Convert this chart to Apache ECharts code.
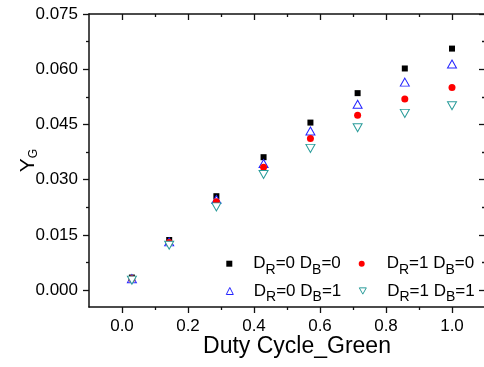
<!DOCTYPE html>
<html>
<head>
<meta charset="utf-8">
<script src="https://cdn.jsdelivr.net/npm/echarts@6/dist/echarts.min.js"></script>
<style>html,body{margin:0;padding:0;background:#fff}#c{width:484px;height:367px}</style>
</head>
<body>
<div id="c"></div>
<script>
// ---- data ----
const dutyCycle = [0.03, 0.143, 0.286, 0.429, 0.571, 0.714, 0.857, 1.0];
const yDR0DB0 = [0.0034, 0.0136, 0.0255, 0.0361, 0.0455, 0.0535, 0.0602, 0.0656];
const yDR0DB1 = [0.0031, 0.0131, 0.0246, 0.0344, 0.0432, 0.0505, 0.0565, 0.0614];
const yDR1DB0 = [0.0031, 0.0129, 0.0240, 0.0334, 0.0412, 0.0475, 0.0519, 0.0550];
const yDR1DB1 = [0.0027, 0.0122, 0.0226, 0.0314, 0.0385, 0.0441, 0.0480, 0.0501];
const seriesNames = ['DR=0 DB=0', 'DR=0 DB=1', 'DR=1 DB=0', 'DR=1 DB=1'];
const legendRich = {
  'DR=0 DB=0': '{n|D}{s|R}{n|=0 D}{s|B}{n|=0}',
  'DR=0 DB=1': '{n|D}{s|R}{n|=0 D}{s|B}{n|=1}',
  'DR=1 DB=0': '{n|D}{s|R}{n|=1 D}{s|B}{n|=0}',
  'DR=1 DB=1': '{n|D}{s|R}{n|=1 D}{s|B}{n|=1}'
};
const xMajorTicks = [0.0, 0.2, 0.4, 0.6, 0.8, 1.0];
const xMinorTicks = [0.1, 0.3, 0.5, 0.7, 0.9];
const yMajorTicks = [0.000, 0.015, 0.030, 0.045, 0.060, 0.075];
const yMinorTicks = [0.0075, 0.0225, 0.0375, 0.0525, 0.0675];
const xTitle = 'Duty Cycle_Green';

const FONT = 'Liberation Sans, Arial, sans-serif';
const AXC = '#111';
const X_MIN = -0.1, X_MAX = 1.1, Y_MIN = -0.0046, Y_MAX = 0.075;
const DOWN_TRI = 'path://M0,0L10,0L5,9Z';

function xAx(pos, ticks, len, inside, showLine, showLabel, extra) {
  return Object.assign({
    type: 'value', position: pos, min: X_MIN, max: X_MAX,
    axisLine: {show: showLine, onZero: false, lineStyle: {color: AXC, width: 1.5}},
    axisTick: {show: true, inside: inside, length: len, customValues: ticks, lineStyle: {color: AXC, width: 1.3}},
    axisLabel: {show: showLabel, customValues: xMajorTicks, margin: 11, color: '#000', fontSize: 17, fontFamily: FONT,
      formatter: v => v.toFixed(1)},
    splitLine: {show: false}
  }, extra || {});
}
function yAx(pos, ticks, len, inside, showLine, showLabel, extra) {
  return Object.assign({
    type: 'value', position: pos, min: Y_MIN, max: Y_MAX,
    axisLine: {show: showLine, onZero: false, lineStyle: {color: AXC, width: 1.5}},
    axisTick: {show: true, inside: inside, length: len, customValues: ticks, lineStyle: {color: AXC, width: 1.3}},
    axisLabel: {show: showLabel, customValues: yMajorTicks, margin: 11, color: '#000', fontSize: 17, fontFamily: FONT,
      formatter: v => v.toFixed(3)},
    splitLine: {show: false}
  }, extra || {});
}

const symbols = [
  {symbol: 'rect', size: 6, style: {color: '#000', opacity: 1}},
  {symbol: 'triangle', size: [9, 8], style: {color: '#fff', borderColor: '#2424ff', borderWidth: 1, opacity: 1}},
  {symbol: 'circle', size: 7, style: {color: '#ff0000', opacity: 1}},
  {symbol: DOWN_TRI, size: [9, 8], style: {color: '#fff', borderColor: '#2a9c9a', borderWidth: 1, opacity: 1}}
];
const seriesData = [yDR0DB0, yDR0DB1, yDR1DB0, yDR1DB1];

const series = seriesNames.map((name, i) => ({
  type: 'scatter', name: name, xAxisIndex: 0, yAxisIndex: 0,
  symbol: symbols[i].symbol, symbolSize: symbols[i].size,
  itemStyle: symbols[i].style,
  data: dutyCycle.map((x, k) => [x, seriesData[i][k]]),
  emphasis: {disabled: true}
}));

// icon centre x, icon size, text start x, row centre y
const legendPos = [
  {cx: 229.3, s: 6, tx: 253.3, cy: 262.7},
  {cx: 229.3, s: 7, tx: 253.3, cy: 290},
  {cx: 361.7, s: 6, tx: 386.7, cy: 262.7},
  {cx: 362.3, s: 7, tx: 386.7, cy: 290}
];
const SUBPAD = 12;
const LEG_SHIFT = 5.5;
const legends = seriesNames.map((name, i) => {
  const p = legendPos[i];
  const left = p.cx - p.s / 2;
  const padL = p.tx - (left + p.s + 5);
  const boxH = 14 + SUBPAD;
  return {
    data: [name], left: left, top: p.cy - boxH / 2 + LEG_SHIFT, padding: 0,
    itemWidth: p.s, itemHeight: p.s, selectedMode: false,
    itemStyle: {borderWidth: 1},
    formatter: n => legendRich[n],
    textStyle: {
      color: '#000', fontFamily: FONT, padding: [0, 0, 0, padL],
      rich: {
        n: {fontSize: 17, fontFamily: FONT, color: '#000'},
        s: {fontSize: 14, fontFamily: FONT, color: '#000', padding: [SUBPAD, 0, 0, 0]}
      }
    }
  };
});

const chart = echarts.init(document.getElementById('c'), null, {renderer: 'canvas'});
chart.setOption({
  animation: false,
  backgroundColor: '#fff',
  grid: {left: 89, top: 14, right: -1, bottom: 60, outerBoundsMode: 'none', containLabel: false},
  legend: legends,
  xAxis: [
    xAx('bottom', xMajorTicks, 6, false, true, true, {
      name: xTitle, nameLocation: 'middle', nameGap: 28, nameMoveOverlap: false,
      nameTextStyle: {fontSize: 23, fontFamily: FONT, color: '#000', padding: [0, 0, 0, 20]}
    }),
    xAx('bottom', xMinorTicks, 3, false, false, false),
    xAx('top', xMajorTicks, 6, true, true, false),
    xAx('top', xMinorTicks, 3, true, false, false)
  ],
  yAxis: [
    yAx('left', yMajorTicks, 6, false, true, true, {
      name: '{n|Y}{s|G}', nameLocation: 'middle', nameGap: 49, nameRotate: 90, nameMoveOverlap: false,
      nameTextStyle: {
        color: '#000', fontFamily: FONT,
        rich: {
          n: {fontSize: 21, fontFamily: FONT, color: '#000'},
          s: {fontSize: 12, fontFamily: FONT, color: '#000', padding: [12, 0, 0, 0]}
        }
      }
    }),
    yAx('left', yMinorTicks, 3, false, false, false),
    yAx('right', yMajorTicks, 6, true, true, false),
    yAx('right', yMinorTicks, 3, true, false, false)
  ],
  series: series
});
</script>
</body>
</html>
